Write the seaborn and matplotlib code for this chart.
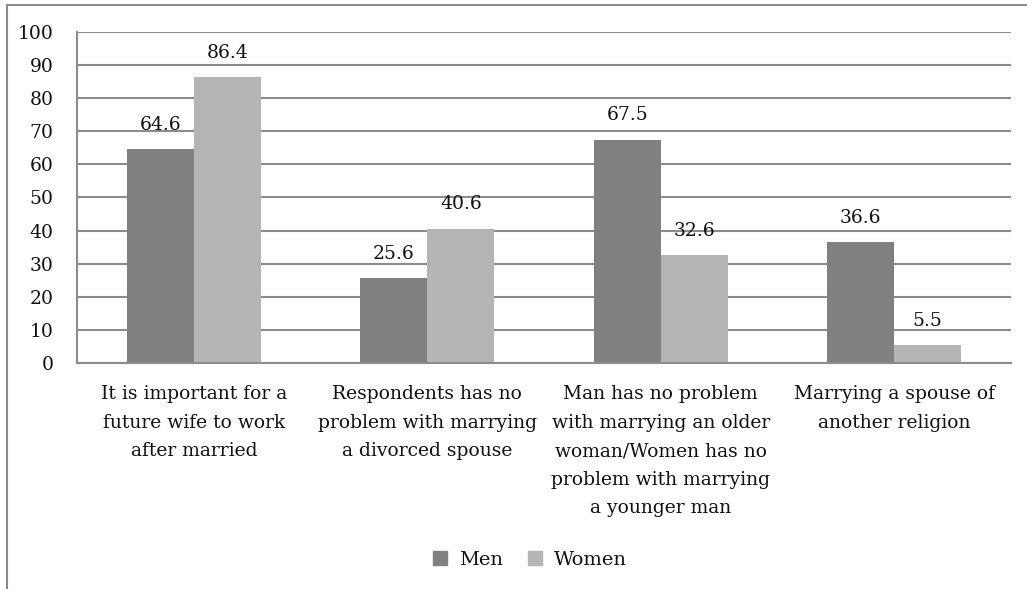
import matplotlib
matplotlib.use("Agg")
import matplotlib.pyplot as plt
import pandas as pd
import seaborn as sns
from matplotlib.lines import Line2D

categories = [
    "It is important for a\nfuture wife to work\nafter married",
    "Respondents has no\nproblem with marrying\na divorced spouse",
    "Man has no problem\nwith marrying an older\nwoman/Women has no\nproblem with marrying\na younger man",
    "Marrying a spouse of\nanother religion",
]
men = [64.6, 25.6, 67.5, 36.6]
women = [86.4, 40.6, 32.6, 5.5]

df = pd.DataFrame({
    "category": categories * 2,
    "value": men + women,
    "group": ["Men"] * 4 + ["Women"] * 4,
})

sns.set_style("white")
plt.rcParams["font.family"] = ["DejaVu Serif"]

fig = plt.figure(figsize=(10.27, 5.89), dpi=100)
ax = fig.add_axes([0.075, 0.3837, 0.9094, 0.562])

sns.barplot(data=df, x="category", y="value", hue="group",
            palette={"Men": "#808080", "Women": "#b5b5b5"},
            width=0.575, gap=0, saturation=1, linewidth=0, ax=ax, legend=False)

for cont in ax.containers:
    ax.bar_label(cont, fmt="%.1f", padding=11, fontsize=13.5, color="#111111")

ax.set_ylim(0, 100)
ax.set_yticks(range(0, 101, 10))
ax.set_xlim(-0.5, 3.5)
ax.yaxis.grid(True, color="#8c8c8c", linewidth=1.5)
ax.set_axisbelow(True)
for s in ["top", "right"]:
    ax.spines[s].set_visible(False)
ax.spines["left"].set_color("#8c8c8c")
ax.spines["left"].set_linewidth(1.5)
ax.spines["bottom"].set_color("#8c8c8c")
ax.spines["bottom"].set_linewidth(1.5)
ax.tick_params(axis="both", length=0, labelsize=13.5, colors="#111111")
ax.tick_params(axis="x", pad=16)
ax.tick_params(axis="y", pad=17)
ax.set_xlabel("")
ax.set_ylabel("")
for t in ax.get_xticklabels():
    t.set_linespacing(1.75)

# legend
handles = [Line2D([], [], marker="s", linestyle="", color="#808080", markersize=10),
           Line2D([], [], marker="s", linestyle="", color="#b5b5b5", markersize=10)]
fig.legend(handles, ["Men", "Women"], loc="center", bbox_to_anchor=(0.51, 0.049),
           ncol=2, frameon=False, fontsize=14, handletextpad=0.0, columnspacing=0.6,
           labelcolor="#111111")

# outer frame of the original figure
fig.add_artist(Line2D([7 / 1027, 7 / 1027], [0, 1 - 5 / 589], transform=fig.transFigure,
                      color="#8c8c8c", linewidth=1.5))
fig.add_artist(Line2D([7 / 1027, 1], [1 - 5 / 589, 1 - 5 / 589], transform=fig.transFigure,
                      color="#8c8c8c", linewidth=1.5))

fig.savefig("out.png", dpi=100)
